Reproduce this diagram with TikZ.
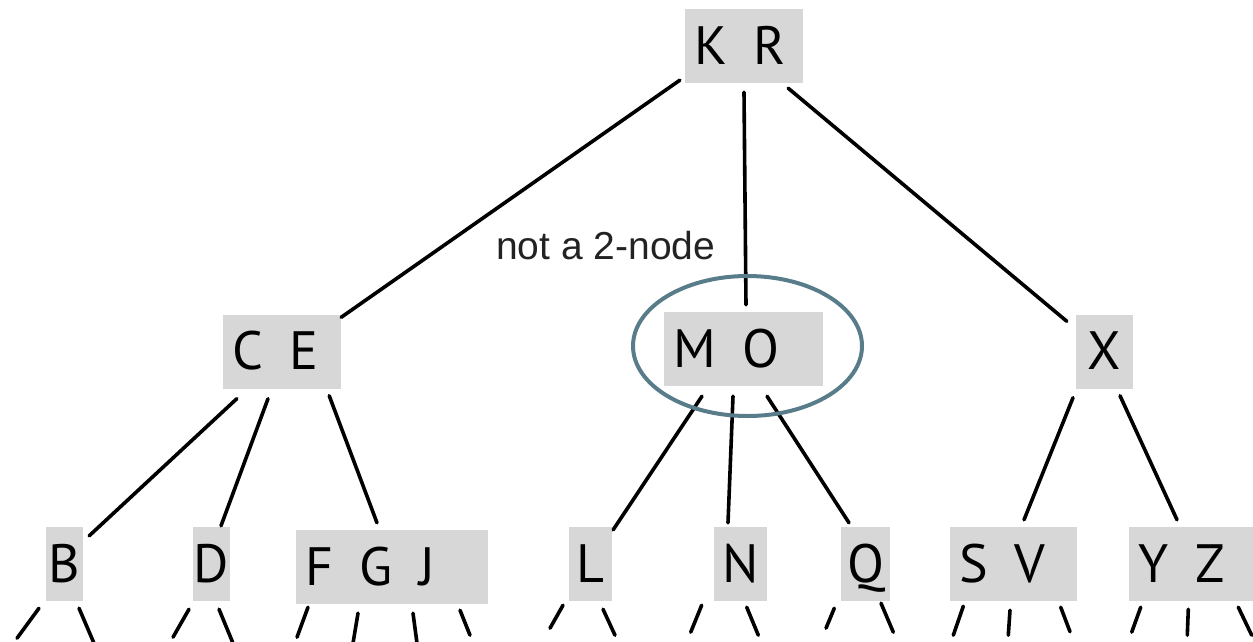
\documentclass[tikz,border=0pt]{standalone}
\usepackage{fontspec}
\setmainfont{Liberation Sans}
\newfontfamily\lf{PT Sans}
\newcommand\treeboxfont{\lf\fontsize{54}{54}\selectfont}
\newcommand\wg{\hspace{9pt}}
\usetikzlibrary{shapes.geometric}
\definecolor{boxgray}{RGB}{215,215,215}
\definecolor{ringc}{RGB}{88,124,137}
\definecolor{labelc}{RGB}{34,34,34}
\begin{document}
\begin{tikzpicture}[x=1pt,y=-1pt,
  bx/.style={fill=boxgray, inner ysep=0pt, minimum height=74pt, text height=36pt, text depth=0pt, font=\treeboxfont},
  multi/.style={bx, inner xsep=9pt, align=left, text width=#1},
  single/.style={bx, inner xsep=0pt, minimum width=#1},
  edge/.style={line width=3.6pt, line cap=round},
  ring/.style={ellipse, draw=ringc, line width=4pt, inner sep=0pt},
  lbl/.style={inner sep=0pt, font=\fontsize{39}{39}\selectfont, text=labelc}
  ]
\useasboundingbox (0,0) rectangle (1253,641);

% nodes
\node[multi=100pt] (KR) at (744,46) {K\wg{} R};
\node[multi=100pt] (CE) at (282,351.5) {C\wg{} E};
\node[multi=141pt] (MO) at (743.5,349) {M\wg{} O};
\node[single=57pt] (X) at (1104.5,351.5) {X};
\node[single=37pt] (B) at (64.5,564) {B};
\node[single=37pt] (D) at (211.5,564) {D};
\node[multi=174pt] (FGJ) at (392,567) {F\wg{} G\wg{} J};
\node[single=43pt] (L) at (590.5,564) {L};
\node[single=53pt] (N) at (740.5,564) {N};
\node[single=49pt] (Q) at (865.5,564) {Q};
\node[multi=109pt] (SV) at (1013.5,564) {S\wg{} V};
\node[multi=106pt] (YZ) at (1191,564) {Y\wg{} Z};

% edges
\draw[edge] ([shift={(-5,-3)}]KR.south west) -- ([shift={(0,3)}]CE.north east);
\draw[edge] ([shift={(0,9)}]KR.south) -- ([shift={(2.5,-7)}]MO.north);
\draw[edge] ([shift={(-15,5)}]KR.south east) -- ([shift={(-9,7)}]X.north west);
\draw[edge] ([shift={(14,10)}]CE.south west) -- ([shift={(6,9)}]B.north east);
\draw[edge] ([shift={(-14,10)}]CE.south) -- ([shift={(9.5,-1)}]D.north);
\draw[edge] ([shift={(-12,7)}]CE.south east) -- ([shift={(-15,-7)}]FGJ.north);
\draw[edge] ([shift={(-41.5,10)}]MO.south) -- ([shift={(1,3)}]L.north east);
\draw[edge] ([shift={(-10.5,10)}]MO.south) -- ([shift={(-12.5,-4)}]N.north);
\draw[edge] ([shift={(23.5,10)}]MO.south) -- ([shift={(-16.5,-4)}]Q.north);
\draw[edge] ([shift={(-31.5,9)}]X.south) -- ([shift={(10.5,-7)}]SV.north);
\draw[edge] ([shift={(15.5,7)}]X.south) -- ([shift={(-14,-7)}]YZ.north);

% stubs to lower levels
\draw[edge] ([shift={(-25.5,7)}]B.south) -- ++(-22,30);
\draw[edge] ([shift={(14.5,7)}]B.south) -- ++(15,35);
\draw[edge] ([shift={(-22.5,8)}]D.south) -- ++(-16,28);
\draw[edge] ([shift={(7.5,8)}]D.south) -- ++(14,34);
\draw[edge] ([shift={(-84,3)}]FGJ.south) -- ++(-11,30);
\draw[edge] ([shift={(-34,9)}]FGJ.south) -- ++(-5,30);
\draw[edge] ([shift={(21,9)}]FGJ.south) -- ++(4,30);
\draw[edge] ([shift={(68,6)}]FGJ.south) -- ++(10,25);
\draw[edge] ([shift={(-27.5,4)}]L.south) -- ++(-13,23);
\draw[edge] ([shift={(12.5,8)}]L.south) -- ++(12,26);
\draw[edge] ([shift={(-38.8,4)}]N.south) -- ++(-11,27);
\draw[edge] ([shift={(6.2,6)}]N.south) -- ++(11.6,28);
\draw[edge] ([shift={(-31.2,7)}]Q.south) -- ++(-8.3,20);
\draw[edge] ([shift={(15.5,2)}]Q.south) -- ++(12.3,29);
\draw[edge] ([shift={(-50.2,5)}]SV.south) -- ++(-10,29);
\draw[edge] ([shift={(-3.5,9)}]SV.south) -- ++(-1.7,25);
\draw[edge] ([shift={(47.2,6)}]SV.south) -- ++(9.3,24.5);
\draw[edge] ([shift={(-50.3,6)}]YZ.south) -- ++(-9,25);
\draw[edge] ([shift={(-2.7,8)}]YZ.south) -- ++(-1,26);
\draw[edge] ([shift={(47.3,6)}]YZ.south) -- ++(13.4,28);

% highlight
\node[ring, minimum width=229pt, minimum height=140pt] (hl) at ([shift={(4,-3)}]MO.center) {};
\node[lbl, anchor=base west] (note) at (496,259) {not a 2-node};
\end{tikzpicture}
\end{document}
